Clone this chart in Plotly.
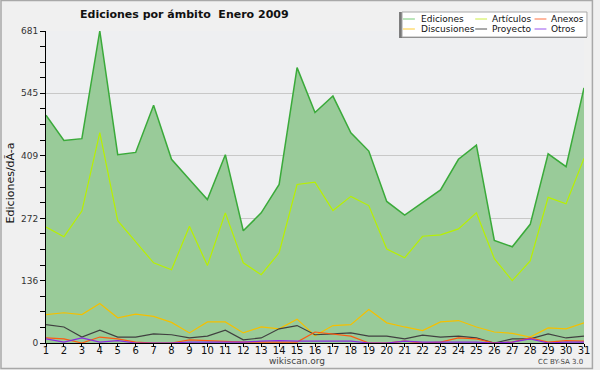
import plotly.graph_objects as go

days = list(range(1, 32))
ediciones = [497, 442, 446, 681, 411, 416, 519, 401, 357, 313, 411, 245, 284, 346, 601,
             503, 539, 459, 419, 309, 279, 306, 334, 401, 432, 224, 210, 259, 413, 385, 557]
articulos = [253, 232, 288, 459, 267, 220, 175, 160, 255, 169, 284, 175, 149, 197, 346,
             351, 289, 320, 300, 205, 186, 233, 236, 249, 284, 184, 136, 179, 318, 304, 403]
discusiones = [62, 66, 62, 86, 55, 63, 58, 45, 22, 46, 46, 22, 35, 31, 52,
               16, 38, 40, 73, 44, 35, 27, 46, 49, 35, 24, 21, 13, 33, 31, 44]
proyecto = [40, 35, 13, 28, 13, 13, 20, 18, 11, 15, 28, 7, 11, 31, 38,
            18, 20, 22, 15, 15, 9, 17, 13, 15, 11, 0, 9, 9, 20, 11, 15]
anexos = [11, 9, 0, 13, 9, 2, 0, 0, 7, 5, 4, 2, 2, 2, 2,
          24, 20, 15, 0, 0, 4, 0, 2, 11, 9, 0, 2, 11, 2, 5, 4]
otros = [9, 2, 11, 2, 5, 0, 0, 0, 2, 2, 2, 2, 4, 5, 4,
         4, 4, 4, 0, 0, 4, 2, 2, 2, 2, 0, 2, 9, 0, 2, 2]

y_ticks = [0, 136, 272, 409, 545, 681]
y_minor = [34, 68, 102, 170, 204, 238, 306, 340, 375, 443, 477, 511, 579, 613, 647]

series = [
    ("Ediciones", ediciones, "#3aaa3a"),
    ("Artículos", articulos, "#b8f000"),
    ("Discusiones", discusiones, "#f5c000"),
    ("Proyecto", proyecto, "#404040"),
    ("Anexos", anexos, "#ff5a10"),
    ("Otros", otros, "#8a2be2"),
]
legend_order = [("Ediciones", "#77cc77"), ("Artículos", "#ccee44"), ("Anexos", "#ff7040"),
                ("Discusiones", "#ffcc33"), ("Proyecto", "#555555"), ("Otros", "#9955ee")]

fig = go.Figure()
for i, (name, vals, col) in enumerate(series):
    if i == 0:
        fig.add_trace(go.Scatter(x=days, y=vals, mode="lines", name=name,
                                 line=dict(color=col, width=1.5),
                                 fill="tozeroy", fillcolor="#99cb99"))
    else:
        fig.add_trace(go.Scatter(x=days, y=vals, mode="lines", name=name,
                                 line=dict(color=col, width=1.2)))

font = "DejaVu Sans, sans-serif"
fig.update_layout(
    width=600, height=370,
    margin=dict(l=46, r=10, t=31, b=27),
    paper_bgcolor="#f0f0f0",
    plot_bgcolor="#eeeff1",
    showlegend=False,
    font=dict(family=font, size=10, color="#222"),
    xaxis=dict(range=[1, 31], tickmode="array", tickvals=days, ticktext=[str(d) for d in days],
               ticks="outside", ticklen=3, tickcolor="#000", showline=True, linecolor="#000",
               linewidth=1, showgrid=False, zeroline=False, ticklabelstandoff=-5,
               tickfont=dict(family=font, size=10, color="#111")),
    yaxis=dict(range=[0, 681], tickmode="array", tickvals=y_ticks,
               ticks="outside", ticklen=5, tickcolor="#000", showline=True, linecolor="#000",
               linewidth=1, showgrid=True, gridcolor="#c8c8c8", gridwidth=1, zeroline=False,
               tickfont=dict(family=font, size=9, color="#333"),
               minor=dict(tickvals=y_minor, ticks="outside", ticklen=5, tickcolor="#000",
                          showgrid=False)),
)


def px(xp):
    return (xp - 46) / 544


def py(yp):
    return (343 - yp) / 312


shapes = []
annotations = []
# outer frame
shapes.append(dict(type="rect", xref="paper", yref="paper", x0=px(0.5), x1=px(598.5),
                   y0=py(368.5), y1=py(0.5), line=dict(width=1.5, color="#a8a8a8"), layer="above"))
# title
annotations.append(dict(text="<b>Ediciones por ámbito  Enero 2009</b>", xref="paper", yref="paper",
                        x=px(186), y=py(15), xanchor="center", yanchor="middle",
                        showarrow=False, font=dict(family=font, size=11, color="#111")))
# y title
annotations.append(dict(text="Ediciones/dÃ-a", xref="paper", yref="paper",
                        x=px(10), y=py(183), xanchor="center", yanchor="middle",
                        textangle=-90, showarrow=False, font=dict(family=font, size=11, color="#111")))
# footer
annotations.append(dict(text="wikiscan.org", xref="paper", yref="paper",
                        x=px(300), y=py(361), xanchor="center", yanchor="middle",
                        showarrow=False, font=dict(family=font, size=9, color="#444")))
annotations.append(dict(text="CC BY-SA 3.0", xref="paper", yref="paper",
                        x=px(566), y=py(362), xanchor="center", yanchor="middle",
                        showarrow=False, font=dict(family=font, size=7, color="#444")))

# legend box with shadow
shapes.append(dict(type="rect", xref="paper", yref="paper", x0=px(403), x1=px(593),
                   y0=py(38), y1=py(12), fillcolor="#777777", line=dict(width=0), layer="above"))
shapes.append(dict(type="rect", xref="paper", yref="paper", x0=px(406), x1=px(593),
                   y0=py(37), y1=py(12), fillcolor="#ffffff", line=dict(color="#aaaaaa", width=1),
                   layer="above"))
col_x = [(407, 423), (480, 495), (540, 555)]
row_y = [19, 29]
for i, (name, col) in enumerate(legend_order):
    r, c = divmod(i, 3)
    lx, tx = col_x[c]
    yy = row_y[r]
    shapes.append(dict(type="line", xref="paper", yref="paper", x0=px(lx), x1=px(lx + 12),
                       y0=py(yy), y1=py(yy), line=dict(color=col, width=1), layer="above"))
    annotations.append(dict(text=name, xref="paper", yref="paper", x=px(tx), y=py(yy),
                            xanchor="left", yanchor="middle", showarrow=False,
                            font=dict(family=font, size=9, color="#111")))

fig.update_layout(shapes=shapes, annotations=annotations)
fig.write_html("out.html", config={"displayModeBar": False},
               post_script="document.body.style.margin='0';")
